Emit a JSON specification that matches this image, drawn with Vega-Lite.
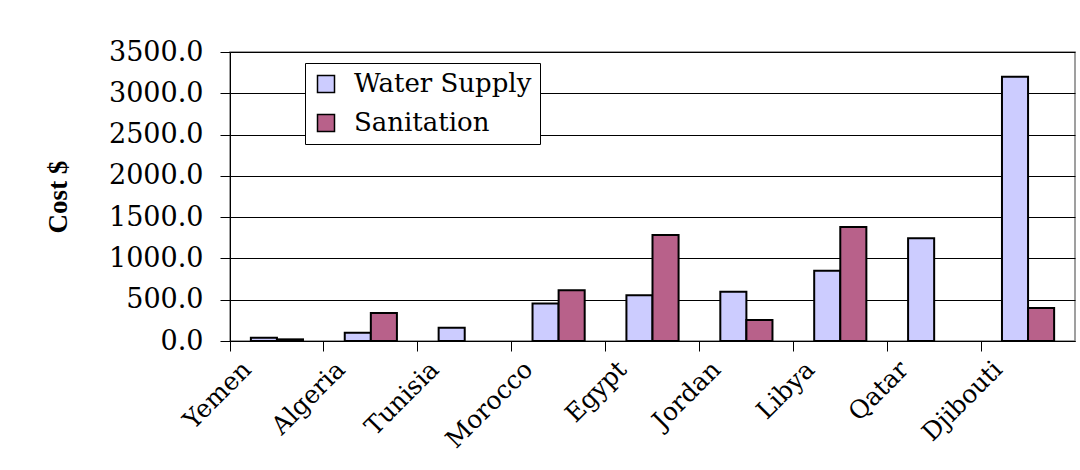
{
  "$schema": "https://vega.github.io/schema/vega-lite/v6.json",
  "width": 845,
  "height": 289,
  "autosize": {"type": "none"},
  "padding": {"left": 230, "top": 52, "right": 5, "bottom": 129},
  "background": "white",
  "data": {
    "values": [
      {"country": "Yemen", "series": "Water Supply", "cost": 40},
      {"country": "Yemen", "series": "Sanitation", "cost": 20},
      {"country": "Algeria", "series": "Water Supply", "cost": 100},
      {"country": "Algeria", "series": "Sanitation", "cost": 340},
      {"country": "Tunisia", "series": "Water Supply", "cost": 160},
      {"country": "Morocco", "series": "Water Supply", "cost": 455},
      {"country": "Morocco", "series": "Sanitation", "cost": 615},
      {"country": "Egypt", "series": "Water Supply", "cost": 555},
      {"country": "Egypt", "series": "Sanitation", "cost": 1285},
      {"country": "Jordan", "series": "Water Supply", "cost": 595},
      {"country": "Jordan", "series": "Sanitation", "cost": 255},
      {"country": "Libya", "series": "Water Supply", "cost": 850},
      {"country": "Libya", "series": "Sanitation", "cost": 1380},
      {"country": "Qatar", "series": "Water Supply", "cost": 1245},
      {"country": "Djibouti", "series": "Water Supply", "cost": 3200},
      {"country": "Djibouti", "series": "Sanitation", "cost": 400}
    ]
  },
  "mark": {"type": "bar", "stroke": "black", "strokeWidth": 2},
  "encoding": {
    "x": {
      "field": "country",
      "type": "nominal",
      "sort": null,
      "scale": {"paddingInner": 0, "paddingOuter": 0},
      "axis": {
        "title": null,
        "labelAngle": -45,
        "labelAlign": "right",
        "labelBaseline": "middle",
        "bandPosition": 0,
        "labelOffset": -30,
        "labelPadding": 14,
        "tickSize": 10,
        "tickColor": "#000",
        "domainColor": "#000",
        "labelFont": "DejaVu Serif",
        "labelFontSize": 25,
        "labelColor": "#000",
        "grid": false
      }
    },
    "xOffset": {
      "field": "series",
      "type": "nominal",
      "sort": ["Water Supply", "Sanitation"],
      "scale": {"domain": ["Water Supply", "Sanitation"], "paddingOuter": 0.8, "paddingInner": 0}
    },
    "y": {
      "field": "cost",
      "type": "quantitative",
      "scale": {"domain": [0, 3500], "nice": false},
      "axis": {
        "title": "Cost $",
        "titleFont": "Liberation Serif",
        "titleFontWeight": "bold",
        "titleFontSize": 27,
        "titleColor": "#000",
        "titlePadding": 36,
        "values": [0, 500, 1000, 1500, 2000, 2500, 3000, 3500],
        "format": ".1f",
        "labelFont": "DejaVu Serif",
        "labelFontSize": 27,
        "labelColor": "#000",
        "labelPadding": 17,
        "tickSize": 10,
        "tickColor": "#000",
        "domainColor": "#000",
        "gridColor": "#000",
        "gridWidth": 1
      }
    },
    "color": {
      "field": "series",
      "type": "nominal",
      "scale": {"domain": ["Water Supply", "Sanitation"], "range": ["#ccccff", "#b8618a"]},
      "legend": {
        "title": null,
        "orient": "none",
        "legendX": 75,
        "legendY": 11,
        "direction": "vertical",
        "strokeColor": "#000",
        "fillColor": "white",
        "padding": 8,
        "symbolType": "square",
        "symbolSize": 289,
        "symbolStrokeColor": "#000",
        "symbolStrokeWidth": 1.5,
        "labelFont": "DejaVu Serif",
        "labelFontSize": 26,
        "labelLimit": 400,
        "labelColor": "#000",
        "labelOffset": 15,
        "rowPadding": 13
      }
    }
  },
  "config": {
    "view": {"stroke": "#808080", "strokeWidth": 1.5}
  }
}
